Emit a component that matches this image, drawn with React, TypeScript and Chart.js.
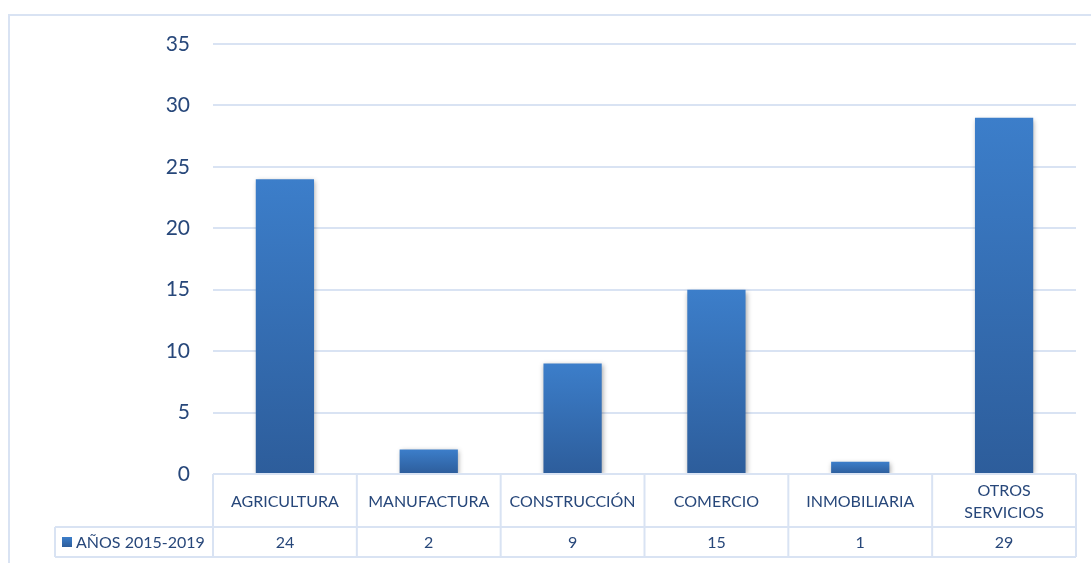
import React, { useEffect, useRef } from "react";
import { Chart, registerables } from "chart.js";

Chart.register(...registerables);

const categories: string[][] = [
  ["AGRICULTURA"],
  ["MANUFACTURA"],
  ["CONSTRUCCIÓN"],
  ["COMERCIO"],
  ["INMOBILIARIA"],
  ["OTROS", "SERVICIOS"],
];
const seriesName = "AÑOS 2015-2019";
const values: number[] = [24, 2, 9, 15, 1, 29];
const yTicks: number[] = [0, 5, 10, 15, 20, 25, 30, 35];

const FONT = "Lato, 'Open Sans', sans-serif";
const TEXT = "#27477a";
const LINE = "#d9e3f3";
const TOP_COLOR = "#3c7eca";
const BOTTOM_COLOR = "#2d5d9b";

const tablePlugin = {
  id: "dataTable",
  beforeDraw(chart: any) {
    const { ctx, width, height } = chart;
    ctx.save();
    ctx.strokeStyle = LINE;
    ctx.lineWidth = 2;
    ctx.strokeRect(9, 15, width + 20, height + 20);
    ctx.restore();
  },
  beforeDatasetsDraw(chart: any) {
    const ctx = chart.ctx;
    ctx.save();
    ctx.shadowColor = "rgba(0,0,0,0.35)";
    ctx.shadowBlur = 5;
    ctx.shadowOffsetX = 1;
    ctx.shadowOffsetY = 2;
  },
  afterDatasetsDraw(chart: any) {
    chart.ctx.restore();
  },
  afterDraw(chart: any) {
    const { ctx, chartArea, scales } = chart;
    const x = scales.x;
    const left = chartArea.left;
    const right = chartArea.right;
    const top = chartArea.bottom;
    const rowSplit = top + 53;
    const bottom = rowSplit + 30;
    const legendLeft = 55;
    const n = categories.length;
    const step = (right - left) / n;

    ctx.save();
    ctx.strokeStyle = LINE;
    ctx.lineWidth = 2;
    ctx.beginPath();
    ctx.moveTo(left, top);
    ctx.lineTo(right, top);
    ctx.moveTo(legendLeft, rowSplit);
    ctx.lineTo(right, rowSplit);
    ctx.moveTo(legendLeft, bottom);
    ctx.lineTo(right, bottom);
    ctx.moveTo(legendLeft, rowSplit);
    ctx.lineTo(legendLeft, bottom);
    for (let i = 0; i <= n; i++) {
      const bx = i < n ? x.getPixelForValue(i) - step / 2 : x.getPixelForValue(n - 1) + step / 2;
      ctx.moveTo(bx, top);
      ctx.lineTo(bx, bottom);
    }
    ctx.stroke();

    ctx.fillStyle = TEXT;
    ctx.font = `16px ${FONT}`;
    ctx.textAlign = "center";
    ctx.textBaseline = "middle";
    categories.forEach((lines, i) => {
      const cx = x.getPixelForValue(i);
      const mid = (top + rowSplit) / 2 + 1;
      const lh = 22;
      lines.forEach((t, j) => {
        ctx.fillText(t, cx, mid + (j - (lines.length - 1) / 2) * lh);
      });
      ctx.fillText(String(values[i]), cx, (rowSplit + bottom) / 2 + 1);
    });

    // legend cell
    const ly = (rowSplit + bottom) / 2;
    const grad = ctx.createLinearGradient(0, ly - 5, 0, ly + 5);
    grad.addColorStop(0, TOP_COLOR);
    grad.addColorStop(1, BOTTOM_COLOR);
    ctx.fillStyle = grad;
    ctx.fillRect(62, ly - 5, 10, 10);
    ctx.fillStyle = TEXT;
    ctx.textAlign = "left";
    ctx.fillText(seriesName, 76, ly + 1);
    ctx.restore();
  },
};

export default function App() {
  const ref = useRef<HTMLCanvasElement>(null);
  useEffect(() => {
    document.body.style.margin = "0";
    const canvas = ref.current!;
    const chart = new Chart(canvas, {
      type: "bar",
      data: {
        labels: categories.map((c) => c.join(" ")),
        datasets: [
          {
            label: seriesName,
            data: values,
            backgroundColor: (c: any) => {
              const ch = c.chart;
              if (!ch.chartArea || c.raw === undefined) return TOP_COLOR;
              const y = ch.scales.y;
              const y0 = y.getPixelForValue(0);
              const y1 = y.getPixelForValue(c.raw);
              const g = ch.ctx.createLinearGradient(0, y1, 0, y0);
              g.addColorStop(0, TOP_COLOR);
              g.addColorStop(1, BOTTOM_COLOR);
              return g;
            },
            barPercentage: 0.405,
            categoryPercentage: 1,
            borderWidth: 0,
          },
        ],
      },
      options: {
        animation: false,
        responsive: false,
        maintainAspectRatio: false,
        layout: { padding: { left: 0, right: 15, top: 44, bottom: 89 } },
        plugins: { legend: { display: false }, tooltip: { enabled: false } },
        scales: {
          x: { display: false, offset: true },
          y: {
            min: 0,
            max: 35,
            afterFit: (s: any) => {
              s.width = 213;
            },
            afterBuildTicks: (s: any) => {
              s.ticks = yTicks.map((v) => ({ value: v }));
            },
            border: { display: false },
            grid: { color: LINE, lineWidth: 2, drawTicks: false },
            ticks: {
              padding: 23,
              color: TEXT,
              font: { family: FONT, size: 21 },
            },
          },
        },
      },
      plugins: [tablePlugin],
    });
    return () => chart.destroy();
  }, []);
  return <canvas ref={ref} width={1091} height={563} style={{ display: "block" }} />;
}
